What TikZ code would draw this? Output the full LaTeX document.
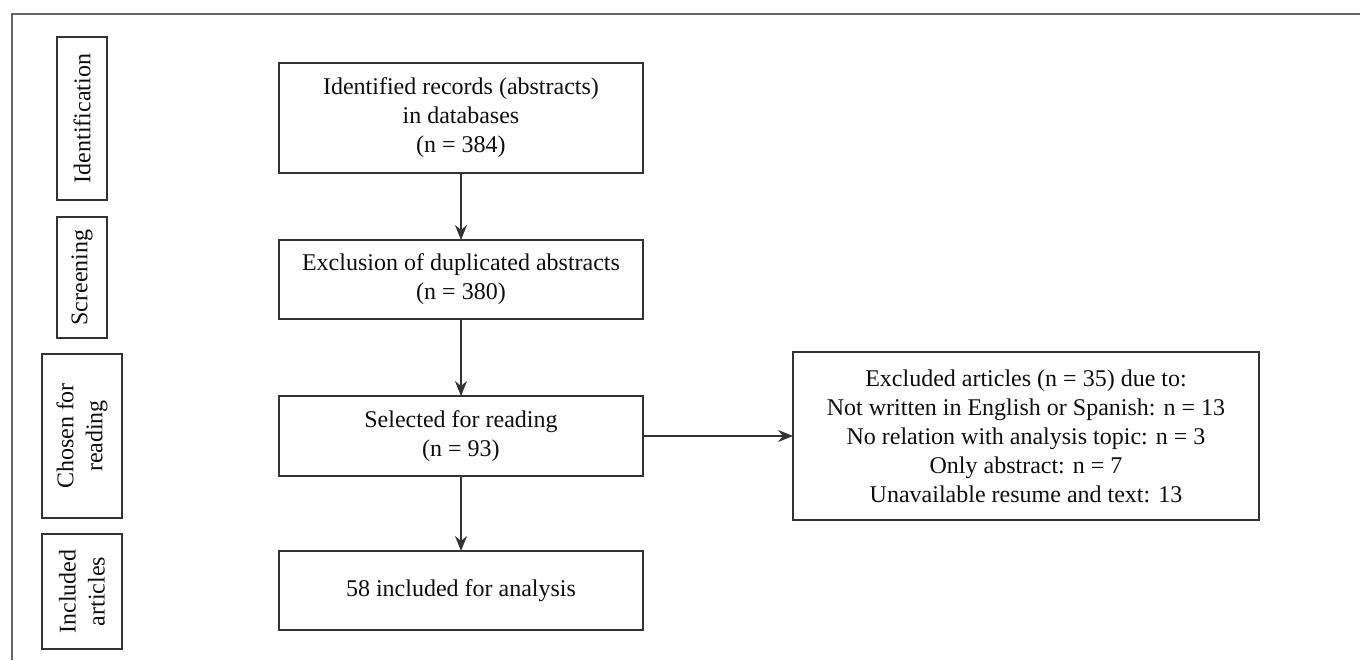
\documentclass[tikz,border=0pt]{standalone}
\usepackage{fontspec}
\setmainfont{Liberation Serif}
\usetikzlibrary{arrows.meta}

\tikzset{
    stagebox/.style={draw=black!80, line width=0.6pt, align=center, text=black!95,
        font=\fontsize{12}{14.5}\selectfont, inner sep=0pt, outer sep=0pt},
    phasebox/.style={stagebox, rotate=90},
    flowarrow/.style={-{Stealth[length=7.5pt,width=6pt,inset=2.5pt]}, draw=black!80, line width=0.6pt},
    frameline/.style={draw=black!60, line width=0.9pt}
}

\begin{document}
\begin{tikzpicture}[x=0.5pt, y=0.5pt]
    \useasboundingbox (0,0) rectangle (1360,660);
    % outer frame
    \coordinate (FR) at (1360,646);
    \coordinate (FC) at (12,646);
    \coordinate (FB) at (12,0);
    \draw[frameline] (FR) -- (FC) -- (FB);

    % phase labels
    \node[phasebox, minimum width=81.5pt, minimum height=25pt] (Ident) at (82,541.5) {Identification};
    \node[phasebox, minimum width=60.5pt, minimum height=25pt] (Screen) at (82,382.5) {Screening};
    \node[phasebox, minimum width=82pt, minimum height=40pt] (Chosen) at (82,224) {Chosen for\\reading};
    \node[phasebox, minimum width=57.5pt, minimum height=40pt] (Incl) at (82,68.5) {Included\\articles};

    % flow boxes
    \node[stagebox, minimum width=182pt, minimum height=55pt] (R) at (461,542)
        {Identified records (abstracts)\\in databases\\(n = 384)};
    \node[stagebox, minimum width=182pt, minimum height=39.5pt] (D) at (461,380.5)
        {Exclusion of duplicated abstracts\\(n = 380)};
    \node[stagebox, minimum width=182pt, minimum height=40pt] (S) at (461,224)
        {Selected for reading\\(n = 93)};
    \node[stagebox, minimum width=182pt, minimum height=39.5pt] (A) at (461,69.5)
        {58 included for analysis};
    \node[stagebox, minimum width=233pt, minimum height=84pt] (E) at (1026,224)
        {Excluded articles (n = 35) due to:\\Not written in English or Spanish: n = 13\\No relation with analysis topic: n = 3\\Only abstract: n = 7\\Unavailable resume and text: 13};

    \draw[flowarrow] (R) -- (D);
    \draw[flowarrow] (D) -- (S);
    \draw[flowarrow] (S) -- (A);
    \draw[flowarrow] (S) -- (E);
\end{tikzpicture}
\end{document}
